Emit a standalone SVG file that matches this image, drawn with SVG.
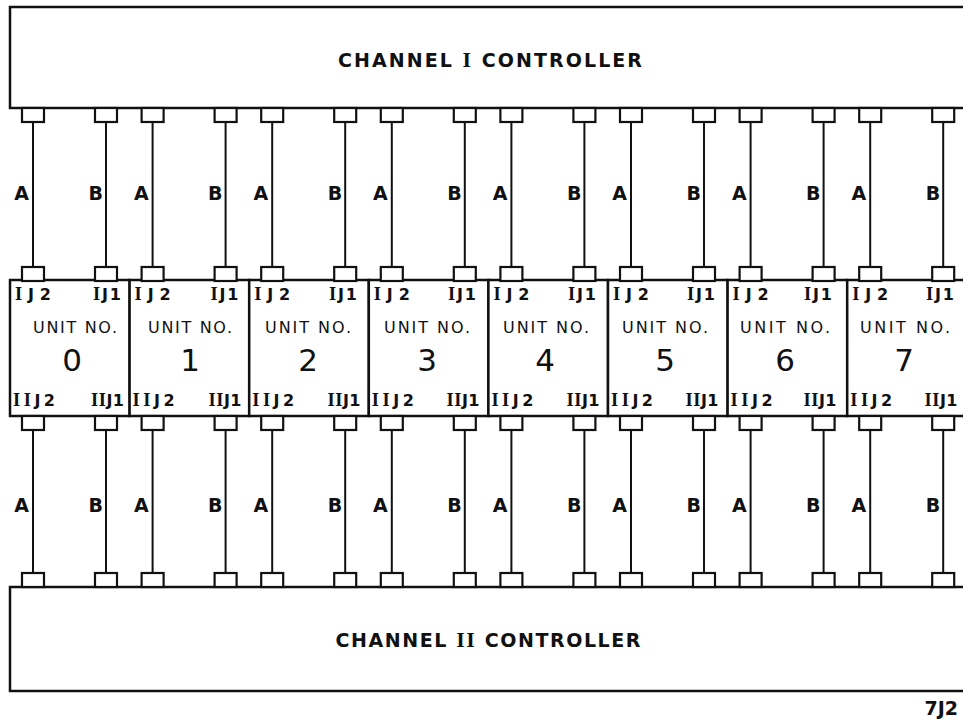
<svg xmlns="http://www.w3.org/2000/svg" xmlns:xlink="http://www.w3.org/1999/xlink" width="963" height="719" viewBox="0 0 963 719">
<style>
.box{fill:#fff;stroke:#111;stroke-width:2.5}
.jack{fill:#fff;stroke:#111;stroke-width:2.2}
.wire{stroke:#111;stroke-width:2;fill:none}
text{font-family:"DejaVu Sans","Liberation Sans",Arial,sans-serif;fill:#111}
.title{font-size:19px;font-weight:bold}
.ab{font-size:19px;font-weight:bold}
.jl{font-size:16px;font-weight:bold}
.un{font-size:16px}
.num{font-size:31px}
.rn{font-family:"Liberation Serif","Times New Roman",serif;font-weight:bold;font-size:1.15em}
</style>
<defs>
<rect id="jack" class="jack" x="-11" y="0" width="22" height="14"/>
</defs>
<rect width="963" height="719" fill="#fff"/>

<g id="channel-1-controller">
<rect class="box" x="10" y="7" width="980" height="101"/>
<text class="title" x="490" y="67" text-anchor="middle" textLength="304" lengthAdjust="spacing">CHANNEL <tspan class="rn">I</tspan> CONTROLLER</text>
<use href="#jack" x="33" y="108"/><use href="#jack" x="106" y="108"/>
<use href="#jack" x="152.6" y="108"/><use href="#jack" x="225.6" y="108"/>
<use href="#jack" x="272.2" y="108"/><use href="#jack" x="345.2" y="108"/>
<use href="#jack" x="391.8" y="108"/><use href="#jack" x="464.8" y="108"/>
<use href="#jack" x="511.4" y="108"/><use href="#jack" x="584.4" y="108"/>
<use href="#jack" x="631" y="108"/><use href="#jack" x="704" y="108"/>
<use href="#jack" x="750.6" y="108"/><use href="#jack" x="823.6" y="108"/>
<use href="#jack" x="870.2" y="108"/><use href="#jack" x="943.2" y="108"/>
</g>

<g id="channel-2-controller">
<rect class="box" x="10" y="587" width="980" height="104"/>
<text class="title" x="488" y="647" text-anchor="middle" textLength="305" lengthAdjust="spacing">CHANNEL <tspan class="rn">II</tspan> CONTROLLER</text>
<use href="#jack" x="33" y="573"/><use href="#jack" x="106" y="573"/>
<use href="#jack" x="152.6" y="573"/><use href="#jack" x="225.6" y="573"/>
<use href="#jack" x="272.2" y="573"/><use href="#jack" x="345.2" y="573"/>
<use href="#jack" x="391.8" y="573"/><use href="#jack" x="464.8" y="573"/>
<use href="#jack" x="511.4" y="573"/><use href="#jack" x="584.4" y="573"/>
<use href="#jack" x="631" y="573"/><use href="#jack" x="704" y="573"/>
<use href="#jack" x="750.6" y="573"/><use href="#jack" x="823.6" y="573"/>
<use href="#jack" x="870.2" y="573"/><use href="#jack" x="943.2" y="573"/>
</g>

<g id="unit-0">
<rect class="box" x="10" y="280" width="119.6" height="136"/>
<use href="#jack" x="33" y="267"/><use href="#jack" x="106" y="267"/>
<use href="#jack" x="33" y="416"/><use href="#jack" x="106" y="416"/>
<text class="jl" x="33" y="300" text-anchor="middle" textLength="36" lengthAdjust="spacing"><tspan class="rn">I</tspan>J2</text>
<text class="jl" x="107" y="300" text-anchor="middle" textLength="28" lengthAdjust="spacing"><tspan class="rn">I</tspan>J1</text>
<text class="un" x="75" y="333" text-anchor="middle" textLength="84" lengthAdjust="spacing">UNIT NO.</text>
<text class="num" x="72" y="371" text-anchor="middle">0</text>
<text class="jl" x="34" y="406" text-anchor="middle" textLength="42" lengthAdjust="spacing"><tspan class="rn">II</tspan>J2</text>
<text class="jl" x="107.5" y="406" text-anchor="middle" textLength="33" lengthAdjust="spacing"><tspan class="rn">II</tspan>J1</text>
</g>

<g id="unit-1">
<rect class="box" x="129.6" y="280" width="119.6" height="136"/>
<use href="#jack" x="152.6" y="267"/><use href="#jack" x="225.6" y="267"/>
<use href="#jack" x="152.6" y="416"/><use href="#jack" x="225.6" y="416"/>
<text class="jl" x="152.6" y="300" text-anchor="middle" textLength="36" lengthAdjust="spacing"><tspan class="rn">I</tspan>J2</text>
<text class="jl" x="224.5" y="300" text-anchor="middle" textLength="28" lengthAdjust="spacing"><tspan class="rn">I</tspan>J1</text>
<text class="un" x="190" y="333" text-anchor="middle" textLength="84" lengthAdjust="spacing">UNIT NO.</text>
<text class="num" x="190" y="371" text-anchor="middle">1</text>
<text class="jl" x="153.6" y="406" text-anchor="middle" textLength="42" lengthAdjust="spacing"><tspan class="rn">II</tspan>J2</text>
<text class="jl" x="225" y="406" text-anchor="middle" textLength="33" lengthAdjust="spacing"><tspan class="rn">II</tspan>J1</text>
</g>

<g id="unit-2">
<rect class="box" x="249.2" y="280" width="119.6" height="136"/>
<use href="#jack" x="272.2" y="267"/><use href="#jack" x="345.2" y="267"/>
<use href="#jack" x="272.2" y="416"/><use href="#jack" x="345.2" y="416"/>
<text class="jl" x="272.2" y="300" text-anchor="middle" textLength="36" lengthAdjust="spacing"><tspan class="rn">I</tspan>J2</text>
<text class="jl" x="343" y="300" text-anchor="middle" textLength="28" lengthAdjust="spacing"><tspan class="rn">I</tspan>J1</text>
<text class="un" x="308" y="333" text-anchor="middle" textLength="86" lengthAdjust="spacing">UNIT NO.</text>
<text class="num" x="308" y="371" text-anchor="middle">2</text>
<text class="jl" x="273.2" y="406" text-anchor="middle" textLength="42" lengthAdjust="spacing"><tspan class="rn">II</tspan>J2</text>
<text class="jl" x="344" y="406" text-anchor="middle" textLength="33" lengthAdjust="spacing"><tspan class="rn">II</tspan>J1</text>
</g>

<g id="unit-3">
<rect class="box" x="368.8" y="280" width="119.6" height="136"/>
<use href="#jack" x="391.8" y="267"/><use href="#jack" x="464.8" y="267"/>
<use href="#jack" x="391.8" y="416"/><use href="#jack" x="464.8" y="416"/>
<text class="jl" x="391.8" y="300" text-anchor="middle" textLength="36" lengthAdjust="spacing"><tspan class="rn">I</tspan>J2</text>
<text class="jl" x="462" y="300" text-anchor="middle" textLength="28" lengthAdjust="spacing"><tspan class="rn">I</tspan>J1</text>
<text class="un" x="427" y="333" text-anchor="middle" textLength="86" lengthAdjust="spacing">UNIT NO.</text>
<text class="num" x="427" y="371" text-anchor="middle">3</text>
<text class="jl" x="392.8" y="406" text-anchor="middle" textLength="42" lengthAdjust="spacing"><tspan class="rn">II</tspan>J2</text>
<text class="jl" x="463" y="406" text-anchor="middle" textLength="33" lengthAdjust="spacing"><tspan class="rn">II</tspan>J1</text>
</g>

<g id="unit-4">
<rect class="box" x="488.4" y="280" width="119.6" height="136"/>
<use href="#jack" x="511.4" y="267"/><use href="#jack" x="584.4" y="267"/>
<use href="#jack" x="511.4" y="416"/><use href="#jack" x="584.4" y="416"/>
<text class="jl" x="511.4" y="300" text-anchor="middle" textLength="36" lengthAdjust="spacing"><tspan class="rn">I</tspan>J2</text>
<text class="jl" x="582" y="300" text-anchor="middle" textLength="28" lengthAdjust="spacing"><tspan class="rn">I</tspan>J1</text>
<text class="un" x="546" y="333" text-anchor="middle" textLength="86" lengthAdjust="spacing">UNIT NO.</text>
<text class="num" x="545" y="371" text-anchor="middle">4</text>
<text class="jl" x="512.4" y="406" text-anchor="middle" textLength="42" lengthAdjust="spacing"><tspan class="rn">II</tspan>J2</text>
<text class="jl" x="583" y="406" text-anchor="middle" textLength="33" lengthAdjust="spacing"><tspan class="rn">II</tspan>J1</text>
</g>

<g id="unit-5">
<rect class="box" x="608" y="280" width="119.6" height="136"/>
<use href="#jack" x="631" y="267"/><use href="#jack" x="704" y="267"/>
<use href="#jack" x="631" y="416"/><use href="#jack" x="704" y="416"/>
<text class="jl" x="631" y="300" text-anchor="middle" textLength="36" lengthAdjust="spacing"><tspan class="rn">I</tspan>J2</text>
<text class="jl" x="701" y="300" text-anchor="middle" textLength="28" lengthAdjust="spacing"><tspan class="rn">I</tspan>J1</text>
<text class="un" x="665" y="333" text-anchor="middle" textLength="86" lengthAdjust="spacing">UNIT NO.</text>
<text class="num" x="665" y="371" text-anchor="middle">5</text>
<text class="jl" x="632" y="406" text-anchor="middle" textLength="42" lengthAdjust="spacing"><tspan class="rn">II</tspan>J2</text>
<text class="jl" x="702" y="406" text-anchor="middle" textLength="33" lengthAdjust="spacing"><tspan class="rn">II</tspan>J1</text>
</g>

<g id="unit-6">
<rect class="box" x="727.6" y="280" width="119.6" height="136"/>
<use href="#jack" x="750.6" y="267"/><use href="#jack" x="823.6" y="267"/>
<use href="#jack" x="750.6" y="416"/><use href="#jack" x="823.6" y="416"/>
<text class="jl" x="750.6" y="300" text-anchor="middle" textLength="36" lengthAdjust="spacing"><tspan class="rn">I</tspan>J2</text>
<text class="jl" x="818" y="300" text-anchor="middle" textLength="28" lengthAdjust="spacing"><tspan class="rn">I</tspan>J1</text>
<text class="un" x="785" y="333" text-anchor="middle" textLength="90" lengthAdjust="spacing">UNIT NO.</text>
<text class="num" x="785" y="371" text-anchor="middle">6</text>
<text class="jl" x="751.6" y="406" text-anchor="middle" textLength="42" lengthAdjust="spacing"><tspan class="rn">II</tspan>J2</text>
<text class="jl" x="820" y="406" text-anchor="middle" textLength="33" lengthAdjust="spacing"><tspan class="rn">II</tspan>J1</text>
</g>

<g id="unit-7">
<rect class="box" x="847.2" y="280" width="130" height="136"/>
<use href="#jack" x="870.2" y="267"/><use href="#jack" x="943.2" y="267"/>
<use href="#jack" x="870.2" y="416"/><use href="#jack" x="943.2" y="416"/>
<text class="jl" x="870.2" y="300" text-anchor="middle" textLength="36" lengthAdjust="spacing"><tspan class="rn">I</tspan>J2</text>
<text class="jl" x="940" y="300" text-anchor="middle" textLength="28" lengthAdjust="spacing"><tspan class="rn">I</tspan>J1</text>
<text class="un" x="905" y="333" text-anchor="middle" textLength="90" lengthAdjust="spacing">UNIT NO.</text>
<text class="num" x="904" y="371" text-anchor="middle">7</text>
<text class="jl" x="871.2" y="406" text-anchor="middle" textLength="42" lengthAdjust="spacing"><tspan class="rn">II</tspan>J2</text>
<text class="jl" x="941" y="406" text-anchor="middle" textLength="33" lengthAdjust="spacing"><tspan class="rn">II</tspan>J1</text>
</g>

<g id="connectors">
<g class="wire">
<path d="M33 122V267M106 122V267M152.6 122V267M225.6 122V267M272.2 122V267M345.2 122V267M391.8 122V267M464.8 122V267M511.4 122V267M584.4 122V267M631 122V267M704 122V267M750.6 122V267M823.6 122V267M870.2 122V267M943.2 122V267"/>
<path d="M33 430V573M106 430V573M152.6 430V573M225.6 430V573M272.2 430V573M345.2 430V573M391.8 430V573M464.8 430V573M511.4 430V573M584.4 430V573M631 430V573M704 430V573M750.6 430V573M823.6 430V573M870.2 430V573M943.2 430V573"/>
</g>
<g>
<text class="ab" x="29" y="200" text-anchor="end">A</text><text class="ab" x="103" y="200" text-anchor="end">B</text>
<text class="ab" x="148.6" y="200" text-anchor="end">A</text><text class="ab" x="222.6" y="200" text-anchor="end">B</text>
<text class="ab" x="268.2" y="200" text-anchor="end">A</text><text class="ab" x="342.2" y="200" text-anchor="end">B</text>
<text class="ab" x="387.8" y="200" text-anchor="end">A</text><text class="ab" x="461.8" y="200" text-anchor="end">B</text>
<text class="ab" x="507.4" y="200" text-anchor="end">A</text><text class="ab" x="581.4" y="200" text-anchor="end">B</text>
<text class="ab" x="627" y="200" text-anchor="end">A</text><text class="ab" x="701" y="200" text-anchor="end">B</text>
<text class="ab" x="746.6" y="200" text-anchor="end">A</text><text class="ab" x="820.6" y="200" text-anchor="end">B</text>
<text class="ab" x="866.2" y="200" text-anchor="end">A</text><text class="ab" x="940.2" y="200" text-anchor="end">B</text>
<text class="ab" x="29" y="512" text-anchor="end">A</text><text class="ab" x="103" y="512" text-anchor="end">B</text>
<text class="ab" x="148.6" y="512" text-anchor="end">A</text><text class="ab" x="222.6" y="512" text-anchor="end">B</text>
<text class="ab" x="268.2" y="512" text-anchor="end">A</text><text class="ab" x="342.2" y="512" text-anchor="end">B</text>
<text class="ab" x="387.8" y="512" text-anchor="end">A</text><text class="ab" x="461.8" y="512" text-anchor="end">B</text>
<text class="ab" x="507.4" y="512" text-anchor="end">A</text><text class="ab" x="581.4" y="512" text-anchor="end">B</text>
<text class="ab" x="627" y="512" text-anchor="end">A</text><text class="ab" x="701" y="512" text-anchor="end">B</text>
<text class="ab" x="746.6" y="512" text-anchor="end">A</text><text class="ab" x="820.6" y="512" text-anchor="end">B</text>
<text class="ab" x="866.2" y="512" text-anchor="end">A</text><text class="ab" x="940.2" y="512" text-anchor="end">B</text>
</g>
</g>

<text class="ab" x="958" y="715" text-anchor="end" font-size="17">7J2</text>
</svg>
